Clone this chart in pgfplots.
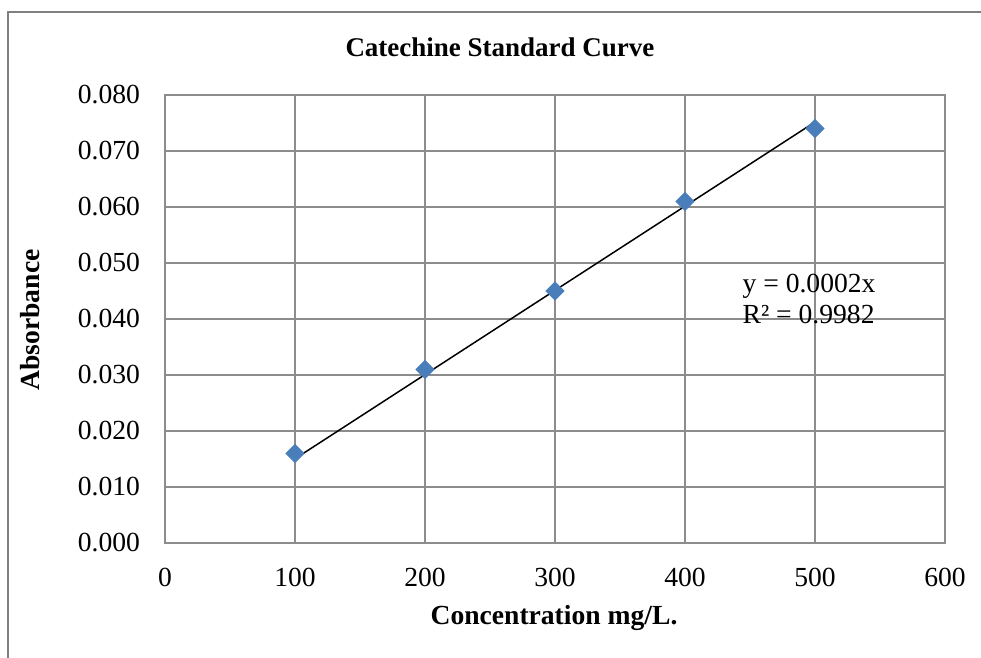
\documentclass[border=0pt]{standalone}
\usepackage{pgfplots}
\pgfplotsset{compat=1.18}
\usepackage{fontspec}
\setmainfont{Liberation Serif}
\definecolor{gridgray}{RGB}{140,140,140}
\definecolor{framegray}{RGB}{128,128,128}
\definecolor{markblue}{RGB}{74,126,187}
\begin{document}
\begin{tikzpicture}
\useasboundingbox (-82.5pt,-57.5pt) rectangle (408pt,271.5pt);
\begin{axis}[
  at={(0,0)}, anchor=south west,
  scale only axis,
  width=390pt, height=224pt,
  xmin=0, xmax=600, ymin=0, ymax=0.08,
  xtick={0,100,...,600},
  ytick={0,0.01,...,0.08},
  scaled y ticks=false,
  yticklabel style={/pgf/number format/fixed, /pgf/number format/fixed zerofill, /pgf/number format/precision=3},
  /pgf/number format/assume math mode=true,
  major tick length=0pt,
  grid=major,
  major grid style={gridgray, line width=0.75pt},
  axis line style={gridgray, line width=0.75pt},
  tick label style={font=\fontsize{13.8}{16}\selectfont},
  xticklabel style={yshift=-9pt},
  yticklabel style={xshift=-9pt},
]
\addplot[only marks, mark=square*, mark size=3.2pt, mark options={rotate=45, fill=markblue, draw=markblue}]
  coordinates {(100,0.016) (200,0.031) (300,0.045) (400,0.061) (500,0.074)};
\addplot[black, line width=0.75pt, no marks] coordinates {(100,0.01504) (500,0.07518)};
\node[anchor=west, align=left, font=\fontsize{13.8}{15.5}\selectfont, inner sep=0pt] at (axis cs:444,0.0435) {y = 0.0002x\\R² = 0.9982};
\end{axis}
\draw[framegray, line width=0.75pt] (-78.5pt,-70pt) -- (-78.5pt,265.5pt) -- (420pt,265.5pt);
\node[font=\bfseries\fontsize{13.5}{16}\selectfont] at (167.5pt,248pt) {Catechine Standard Curve};
\node[font=\bfseries\fontsize{13.8}{16}\selectfont, rotate=90] at (-67.5pt,111.5pt) {Absorbance};
\node[font=\bfseries\fontsize{13.8}{16}\selectfont] at (194.5pt,-37.5pt) {Concentration mg/L.};
\end{tikzpicture}
\end{document}
